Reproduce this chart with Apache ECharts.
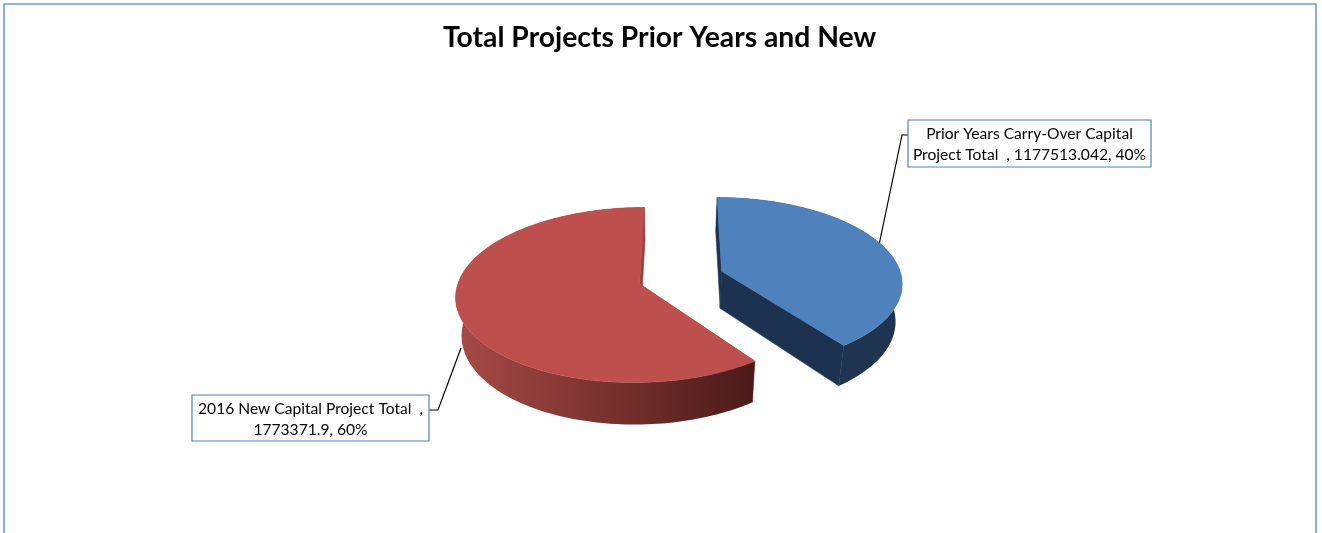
<!DOCTYPE html>
<html>
<head>
<meta charset="utf-8">
<title>Total Projects Prior Years and New</title>
<script src="https://cdn.jsdelivr.net/npm/echarts@6/dist/echarts.min.js"></script>
<style>
  html, body { margin: 0; padding: 0; background: #fff; }
  #chart { width: 1322px; height: 533px; }
</style>
</head>
<body>
<div id="chart"></div>
<script>
var chartTitle = 'Total Projects Prior Years and New';
var sliceNames = ['Prior Years Carry-Over Capital Project Total  ', '2016 New Capital Project Total  '];
var sliceValues = [1177513.042, 1773371.9];

// where the label wraps, in characters of the full label
var labelWrap = [30, 33];

var total = sliceValues.reduce(function (a, b) { return a + b; }, 0);

// tilted disc: screen centre, radii, perspective, pull-out
var pie = { cx: 681, cy: 277.5, rx: 180, ry: 84.5, k: 0.126, explode: 0.24 };
// bottom rim is the top rim shrunk and pushed down
var rim = { vx: 668, sx: 0.972, dy: 37, y0: 269, sy: 0.044 };

var sliceStyle = [
  { top: '#4f81bd', wall: '#1e3450', cut: '#1d3250', wallEnd: '#1e3450' },
  { top: '#bd504d', wall: '#a84a46', cut: '#9a3f3d', wallEnd: '#4a1a18' }
];
var labelBox = [
  { x: 908, y: 120, width: 243, height: 47, leader: [[908, 135], [902, 135], [879, 245]] },
  { x: 192, y: 395, width: 237, height: 46, leader: [[429, 410], [438, 410], [461, 348]] }
];

function project(U, V) {
  var d = 1 - pie.k * V;
  return [pie.cx + pie.rx * U / d, pie.cy + pie.ry * V / d];
}
function lower(p) {
  return [rim.vx + (p[0] - rim.vx) * rim.sx, p[1] + rim.dy + (p[1] - rim.y0) * rim.sy];
}

function sliceShape(i) {
  var before = 0;
  for (var n = 0; n < i; n++) before += sliceValues[n];
  var a0 = before / total * Math.PI * 2;
  var a1 = (before + sliceValues[i]) / total * Math.PI * 2;
  var mid = (a0 + a1) / 2;
  var ox = pie.explode * Math.sin(mid), oy = -pie.explode * Math.cos(mid);
  var arc = [];
  var steps = Math.ceil((a1 - a0) / (Math.PI / 120));
  for (var s = 0; s <= steps; s++) {
    var a = a0 + (a1 - a0) * s / steps;
    arc.push(project(ox + Math.sin(a), oy - Math.cos(a)));
  }
  return { apex: project(ox, oy), arc: arc };
}

function labelLines(i) {
  var pct = Math.round(sliceValues[i] / total * 100);
  var full = sliceNames[i] + ', ' + sliceValues[i] + ', ' + pct + '%';
  return [full.slice(0, labelWrap[i]).trim(), full.slice(labelWrap[i]).trim()];
}

function solid(color) {
  return { fill: color, stroke: color, lineWidth: 0.6 };
}

function renderSlice(params) {
  var i = params.dataIndex;
  var st = sliceStyle[i], box = labelBox[i];
  var shape = sliceShape(i);
  var arc = shape.arc, apex = shape.apex;
  var first = arc[0], last = arc[arc.length - 1];
  // the cut whose outer end is lower on screen is the nearer one
  var front = first[1] > last[1] ? first : last;
  var back = first[1] > last[1] ? last : first;
  var arcLow = arc.map(lower).reverse();
  var xs = arc.map(function (p) { return p[0]; });
  var wallFill = new echarts.graphic.LinearGradient(Math.min.apply(null, xs), 0, Math.max.apply(null, xs), 0, [
    { offset: 0, color: st.wall },
    { offset: 1, color: st.wallEnd }
  ], true);
  var children = [
    { type: 'polyline', shape: { points: box.leader }, style: { stroke: '#000', lineWidth: 1.2, fill: null } },
    { type: 'polygon', shape: { points: [apex, front, lower(front), lower(apex)] }, style: solid(st.cut) },
    { type: 'polygon', shape: { points: arc.concat(arcLow) }, style: { fill: wallFill } },
    { type: 'polygon', shape: { points: [apex, back, lower(back), lower(apex)] }, style: solid(st.cut) },
    { type: 'polygon', shape: { points: [apex].concat(arc) }, style: solid(st.top) },
    {
      type: 'rect',
      shape: { x: box.x, y: box.y, width: box.width, height: box.height },
      style: { fill: '#fff', stroke: '#4f81bd', lineWidth: 1.2 }
    }
  ];
  labelLines(i).forEach(function (line, n) {
    children.push({
      type: 'text',
      style: {
        x: box.x + box.width / 2,
        y: box.y + 13.5 + n * 21,
        text: line,
        align: 'center',
        verticalAlign: 'middle',
        fill: '#000',
        font: '15.6px Lato'
      }
    });
  });
  return { type: 'group', children: children };
}

var chart = echarts.init(document.getElementById('chart'));
chart.setOption({
  animation: false,
  backgroundColor: '#fff',
  title: {
    text: chartTitle,
    left: 438,
    top: 19,
    textStyle: { fontFamily: 'Lato', fontWeight: 'bold', fontSize: 28.3, color: '#000' }
  },
  graphic: [{
    type: 'rect',
    shape: { x: 4, y: 4, width: 1312, height: 620 },
    style: { fill: null, stroke: '#6f9bd0', lineWidth: 1.6 },
    silent: true
  }],
  series: [{
    type: 'custom',
    coordinateSystem: 'none',
    silent: true,
    data: sliceValues,
    renderItem: renderSlice
  }]
});
</script>
</body>
</html>
